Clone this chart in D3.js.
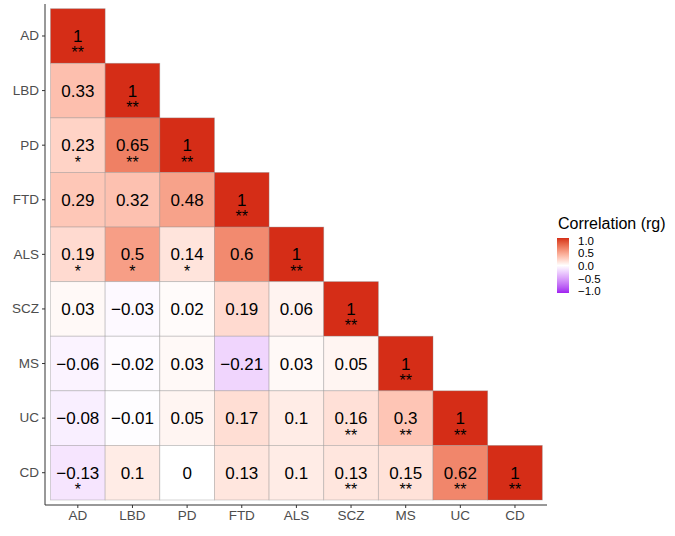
<!DOCTYPE html>
<html>
<head>
<meta charset="utf-8">
<script src="https://cdn.jsdelivr.net/npm/d3@7"></script>
<style>
  body { margin: 0; background: #fff; }
  svg text { font-family: "Liberation Sans", Arial, Helvetica, sans-serif; }
</style>
</head>
<body>
<svg id="chart" width="675" height="536"></svg>
<script>
const categories = ["AD", "LBD", "PD", "FTD", "ALS", "SCZ", "MS", "UC", "CD"];
const rowAD  = [1];
const rowLBD = [0.33, 1];
const rowPD  = [0.23, 0.65, 1];
const rowFTD = [0.29, 0.32, 0.48, 1];
const rowALS = [0.19, 0.5, 0.14, 0.6, 1];
const rowSCZ = [0.03, -0.03, 0.02, 0.19, 0.06, 1];
const rowMS  = [-0.06, -0.02, 0.03, -0.21, 0.03, 0.05, 1];
const rowUC  = [-0.08, -0.01, 0.05, 0.17, 0.1, 0.16, 0.3, 1];
const rowCD  = [-0.13, 0.1, 0, 0.13, 0.1, 0.13, 0.15, 0.62, 1];
const values = [rowAD, rowLBD, rowPD, rowFTD, rowALS, rowSCZ, rowMS, rowUC, rowCD];

const starsAD  = ["**"];
const starsLBD = ["", "**"];
const starsPD  = ["*", "**", "**"];
const starsFTD = ["", "", "", "**"];
const starsALS = ["*", "*", "*", "", "**"];
const starsSCZ = ["", "", "", "", "", "**"];
const starsMS  = ["", "", "", "", "", "", "**"];
const starsUC  = ["", "", "", "", "", "**", "**", "**"];
const starsCD  = ["*", "", "", "", "", "**", "**", "**", "**"];
const stars = [starsAD, starsLBD, starsPD, starsFTD, starsALS, starsSCZ, starsMS, starsUC, starsCD];

const legendTicks = [1.0, 0.5, 0.0, -0.5, -1.0];
const legendTitle = "Correlation (rg)";

const cells = [];
values.forEach((row, i) => row.forEach((v, j) => cells.push({
  row: categories[i], col: categories[j], v, s: stars[i][j]
})));

const svg = d3.select("#chart");
const x = d3.scaleBand().domain(categories).range([50.5, 542.3]).padding(0);
const y = d3.scaleBand().domain(categories).range([8.7, 500]).padding(0);

const lowC = "#A020F0", midC = "#FFFFFF", highC = "#D52D17";
const color = v => v >= 0 ? d3.interpolateLab(midC, highC)(v) : d3.interpolateLab(midC, lowC)(-v);

const fmt = v => (v === 0 ? "0" : String(v)).replace("-", "\u2212");

const g = svg.append("g");
g.selectAll("rect.cell").data(cells).join("rect")
  .attr("class", "cell")
  .attr("x", d => x(d.col)).attr("y", d => y(d.row))
  .attr("width", x.bandwidth()).attr("height", y.bandwidth())
  .attr("fill", d => color(d.v))
  .attr("stroke", "rgba(140,140,140,0.45)").attr("stroke-width", 0.8);

g.selectAll("text.val").data(cells).join("text")
  .attr("class", "val")
  .attr("x", d => x(d.col) + x.bandwidth() / 2)
  .attr("y", d => y(d.row) + y.bandwidth() / 2 + 6.1)
  .attr("text-anchor", "middle")
  .attr("font-size", 17).attr("fill", "#000")
  .text(d => fmt(d.v));

g.selectAll("text.star").data(cells.filter(d => d.s)).join("text")
  .attr("class", "star")
  .attr("x", d => x(d.col) + x.bandwidth() / 2)
  .attr("y", d => y(d.row) + y.bandwidth() / 2 + 22.5)
  .attr("text-anchor", "middle")
  .attr("font-size", 16).attr("fill", "#000")
  .text(d => d.s);

// axes
const yAxis = d3.axisLeft(y).tickSize(3).tickPadding(3);
const xAxis = d3.axisBottom(x).tickSize(3).tickPadding(2);
const ya = svg.append("g").attr("transform", "translate(45,0)").call(yAxis);
const xa = svg.append("g").attr("transform", "translate(0,505)").call(xAxis);
ya.select(".domain").attr("d", "M0,4V505");
xa.select(".domain").attr("d", "M45,0H547");
[ya, xa].forEach(a => {
  a.select(".domain").attr("stroke", "#333").attr("stroke-width", 1);
  a.selectAll(".tick line").attr("stroke", "#333");
  a.selectAll(".tick text").attr("font-size", 13.5).attr("fill", "#4D4D4D")
    .style("font-family", "'Liberation Sans', Arial, sans-serif");
});

// legend
const defs = svg.append("defs");
const grad = defs.append("linearGradient").attr("id", "lg")
  .attr("x1", 0).attr("y1", 1).attr("x2", 0).attr("y2", 0);
d3.range(0, 21).forEach(k => {
  const v = -1 + k / 10;
  grad.append("stop").attr("offset", k / 20).attr("stop-color", color(v));
});
const lg = svg.append("g");
const ly = d3.scaleLinear().domain([-1, 1]).range([291, 240.5]);
lg.append("text").attr("x", 558).attr("y", 229).attr("font-size", 16).attr("fill", "#000").text(legendTitle);
lg.append("rect").attr("x", 557).attr("y", 238).attr("width", 12).attr("height", 55).attr("fill", "url(#lg)");
lg.selectAll("text.lt").data(legendTicks).join("text")
  .attr("class", "lt")
  .attr("x", 578).attr("y", d => ly(d) + 4.2)
  .attr("font-size", 11.5).attr("fill", "#000")
  .text(d => d.toFixed(1).replace("-", "\u2212"));
</script>
</body>
</html>
